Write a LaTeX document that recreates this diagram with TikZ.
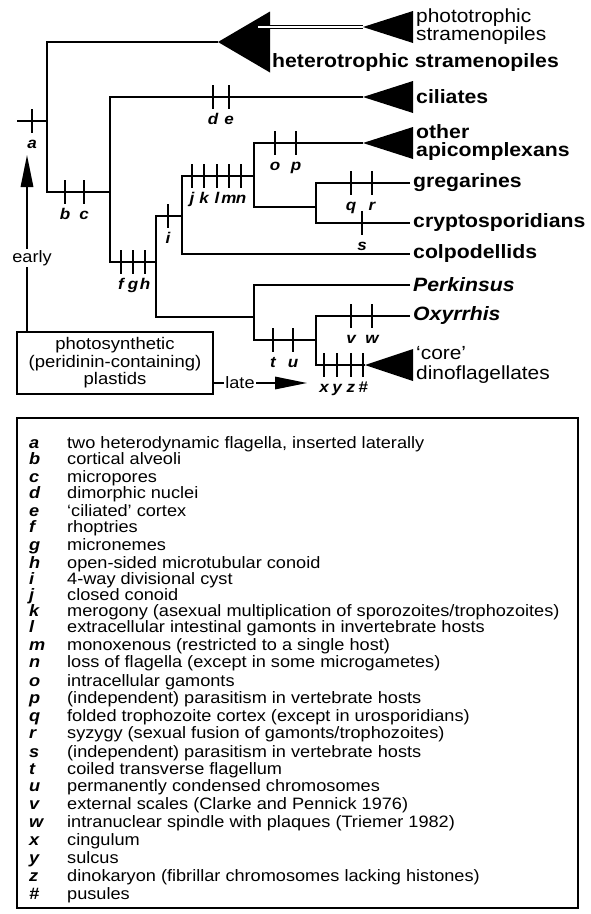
\documentclass[tikz,border=0pt]{standalone}
\usepackage{fontspec}
\setmainfont{Liberation Sans}[FakeStretch=1.1]
\usetikzlibrary{arrows.meta,positioning}

\begin{document}
\begin{tikzpicture}[x=1pt,y=-1pt,
  branch/.style={line width=1.6pt},
  tickmark/.style={line width=2.8pt},
  dbl/.style={double,double distance=1.1pt,line width=1pt},
  letter/.style={font=\fontsize{15.5}{15}\selectfont\bfseries\itshape,inner sep=0pt,anchor=base},
  taxon/.style={font=\fontsize{19.3}{18}\selectfont\bfseries,anchor=west,inner sep=0pt,align=left},
  plain/.style={font=\fontsize{19}{18}\selectfont,anchor=west,inner sep=0pt,align=left},
  note/.style={font=\fontsize{16.5}{17.5}\selectfont,fill=white,inner sep=1pt},
  arrow/.style={line width=1.6pt,-{Triangle[length=32pt,width=12.5pt]}},
  key/.style={font=\fontsize{16.5}{16}\selectfont\bfseries\itshape,anchor=base west,inner sep=0pt},
  entry/.style={font=\fontsize{16.5}{16}\selectfont,anchor=base west,inner sep=0pt}
]
\useasboundingbox (0,0) rectangle (591,914);

% tree points
\coordinate (root) at (17,121);
\coordinate (stem) at (47,121);
\coordinate (strA) at (218,42);
\coordinate (alv0) at (47,192);
\coordinate (alv1) at (110,192);
\coordinate (photoS) at (258,27);
\coordinate (photoA) at (363,27);
\coordinate (cilA) at (363,97);
\coordinate (myz0) at (110,262);
\coordinate (myz1) at (156,262);
\coordinate (api0) at (182,216);
\coordinate (din0) at (156,317);
\coordinate (din1) at (254,317);
\coordinate (apc0) at (254,176);
\coordinate (colp0) at (182,254);
\coordinate (colp) at (410,254);
\coordinate (apiA) at (363,143);
\coordinate (grg0) at (254,207);
\coordinate (grg1) at (316,207);
\coordinate (greg) at (410,183);
\coordinate (cry0) at (316,223);
\coordinate (crypto) at (410,223);
\coordinate (perk) at (410,285);
\coordinate (dn0) at (254,340);
\coordinate (dn1) at (316,340);
\coordinate (oxy) at (410,316);
\coordinate (core0) at (316,365);
\coordinate (coreA) at (365,365);

% branches
\draw[branch] (root) -- (stem);
\draw[branch] (strA) -| (alv0) -- (alv1);
\draw[branch] (cilA) -| (myz0) -- (myz1);
\draw[branch] (api0) -| (din0) -- (din1);
\draw[branch] (apc0) -| (colp0) -- (colp);
\draw[branch] (apiA) -| (grg0) -- (grg1);
\draw[branch] (greg) -| (cry0) -- (crypto);
\draw[branch] (perk) -| (dn0) -- (dn1);
\draw[branch] (oxy) -| (core0) -- (coreA);

% collapsed clades
\fill (strA) -- ++(52,-30.5) -- ++(0,61) -- cycle;
\draw[dbl] (photoS) -- (photoA);
\foreach \c in {photoA,cilA,apiA}
  \fill (\c) -- ++(50,-16) -- ++(0,32) -- cycle;
\fill (coreA) -- ++(48,-16) -- ++(0,32) -- cycle;

% characters
\foreach \x/\y/\l in {32/121/a,65/192/b,84/192/c,213/97/d,229/97/e,
    121/262/f,133/262/g,145/262/h,168/216/i,
    192/176/j,204/176/k,217/176/l,229/176/m,241/176/n,
    275/143/o,296/143/p,351/183/q,372/183/r,362/223/s,
    273/340/t,293/340/u,351/316/v,372/316/w,
    324/365/x,337/365/y,351/365/z,363/365/\#}{
  \draw[tickmark] (\x,\y-12) -- (\x,\y+12);
  \node[letter] at (\x,\y+27) {\l};
}

% taxa
\node[plain,right=53pt of photoA] (photo) {phototrophic\\stramenopiles};
\node[taxon] (het) at (272,63) {heterotrophic stramenopiles};
\node[taxon,right=53pt of cilA] (cil) {ciliates};
\node[taxon,right=53pt of apiA] (api) {other\\apicomplexans};
\node[taxon,right=3pt of greg] {gregarines};
\node[taxon,right=3pt of crypto] {cryptosporidians};
\node[taxon,right=3pt of colp] {colpodellids};
\node[taxon,right=3pt of perk] {\itshape Perkinsus};
\node[taxon,right=3pt of oxy] {\itshape Oxyrrhis};
\node[plain,right=51pt of coreA,font=\fontsize{19}{19.5}\selectfont] (core) {`core'\\dinoflagellates};

% plastid origin
\node[draw,line width=1.2pt,minimum width=196pt,minimum height=62pt,align=center,
  font=\fontsize{16.8}{17.5}\selectfont] (plast) at (115,363)
  {photosynthetic\\(peridinin-containing)\\plastids};
\coordinate (earlyTip) at (27,155);
\coordinate (lateTip) at (307,383);
\draw[arrow] (plast.north -| earlyTip) -- (earlyTip);
\draw[arrow] (plast.east |- lateTip) -- (lateTip);
\node[note] (early) at (32,258) {early};
\node[note] (late) at (240,383) {late};

% legend
\node[draw,line width=1.2pt,minimum width=561pt,minimum height=490pt] (legend) at (297.5,663) {};
\foreach \y/\l/\t in {443/a/{two heterodynamic flagella, inserted laterally},
    459/b/cortical alveoli, 477/c/micropores, 493/d/dimorphic nuclei,
    511/e/`ciliated' cortex, 527/f/rhoptries, 545/g/micronemes,
    563/h/open-sided microtubular conoid, 579/i/4-way divisional cyst,
    595/j/closed conoid,
    611/k/{merogony (asexual multiplication of sporozoites/trophozoites)},
    627/l/extracellular intestinal gamonts in invertebrate hosts,
    645/m/monoxenous (restricted to a single host),
    662/n/loss of flagella (except in some microgametes),
    681/o/intracellular gamonts,
    698/p/(independent) parasitism in vertebrate hosts,
    716/q/folded trophozoite cortex (except in urosporidians),
    733/r/{syzygy (sexual fusion of gamonts/trophozoites)},
    752/s/(independent) parasitism in vertebrate hosts,
    769/t/coiled transverse flagellum,
    786/u/permanently condensed chromosomes,
    804/v/external scales (Clarke and Pennick 1976),
    822/w/intranuclear spindle with plaques (Triemer 1982),
    840/x/cingulum, 858/y/sulcus,
    876/z/dinokaryon (fibrillar chromosomes lacking histones),
    894/\#/pusules}{
  \node[key] at (29,\y+5) {\l};
  \node[entry] at (67,\y+5) {\t};
}
\end{tikzpicture}
\end{document}
